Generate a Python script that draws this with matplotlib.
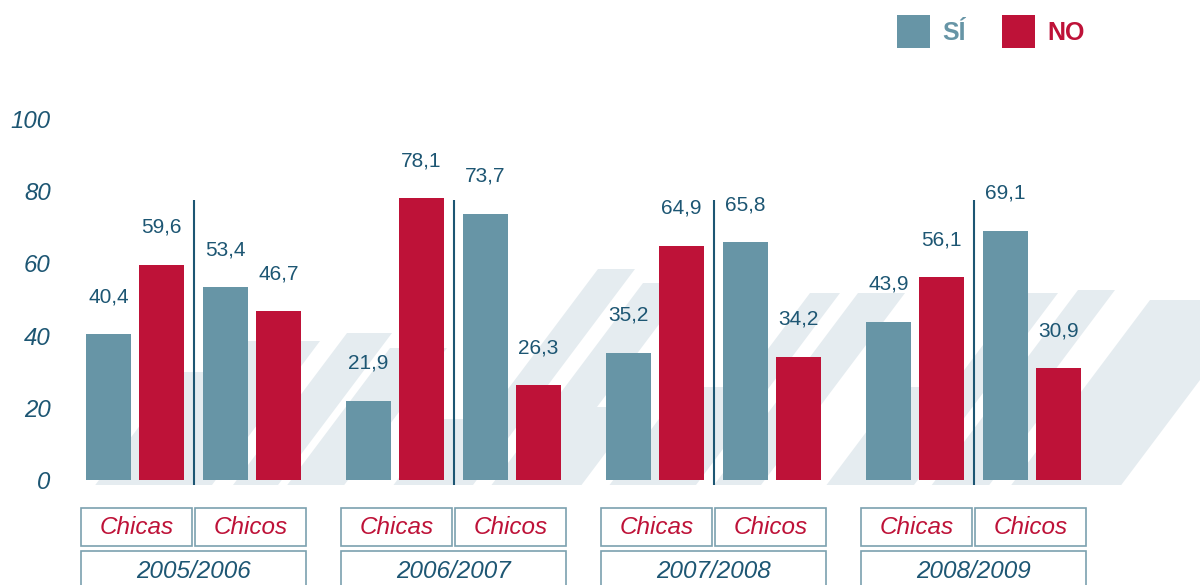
import matplotlib.pyplot as plt
from matplotlib.patches import Rectangle, Polygon

plt.switch_backend('Agg')
plt.rcParams['font.family'] = ['Liberation Sans', 'DejaVu Sans']

# Data
years = ['2005/2006', '2006/2007', '2007/2008', '2008/2009']
sexes = ['Chicas', 'Chicos']
answers = ['SÍ', 'NO']
chicas_si = [40.4, 21.9, 35.2, 43.9]
chicas_no = [59.6, 78.1, 64.9, 56.1]
chicos_si = [53.4, 73.7, 65.8, 69.1]
chicos_no = [46.7, 26.3, 34.2, 30.9]

TEAL = '#6795a6'
RED = '#be1238'
DARK = '#1d5673'
EDGE = '#7ba1af'
STRIPE = '#e5ecf0'

# x axis works in pixels, y axis in percent
px = 3.61            # pixels per percentage point
x0 = 86              # left edge of first bar
group_step = 260
pair_step = 117
bar_step = 53
bar_w = 45

fig = plt.figure(figsize=(12, 5.85), dpi=100)
ax = fig.add_axes([0, 0, 1, 1])
ax.set_xlim(0, 1200)
ax.set_ylim(-105 / px, 480 / px)


def yv(p):
    # pixel row -> value
    return (480 - p) / px


# background decoration stripes (top row, left x, right x)
stripes = [(341, 230, 320), (333, 347, 392), (348, 390, 447), (419, 443, 500),
           (372, 180, 215), (269, 598, 635), (283, 643, 690), (407, 562, 640),
           (387, 683, 743), (293, 810, 840), (293, 858, 905), (387, 900, 960),
           (293, 1022, 1058), (290, 1078, 1115), (300, 1150, 1260),
           (388, 1025, 1062)]
k = 0.75
for top, a, b in stripes:
    h = 485 - top
    ax.add_patch(Polygon([(a, yv(top)), (b, yv(top)), (b - k * h, yv(485)), (a - k * h, yv(485))],
                         closed=True, color=STRIPE, lw=0, zorder=0))

si_vals, no_vals, lefts = [], [], []
for g in range(len(years)):
    for s, (si, no) in enumerate([(chicas_si[g], chicas_no[g]), (chicos_si[g], chicos_no[g])]):
        lefts.append(x0 + g * group_step + s * pair_step)
        si_vals.append(si)
        no_vals.append(no)

b_si = ax.bar([l + bar_w / 2 for l in lefts], si_vals, width=bar_w, color=TEAL, zorder=2)
b_no = ax.bar([l + bar_step + bar_w / 2 for l in lefts], no_vals, width=bar_w, color=RED, zorder=2)

for bars in (b_si, b_no):
    for r in bars:
        v = r.get_height()
        ax.annotate(f'{v:.1f}'.replace('.', ','), (r.get_x() + r.get_width() / 2, v),
                    xytext=(0, 23), textcoords='offset points', ha='center', va='baseline',
                    fontsize=15, color=DARK, zorder=3)

# separators and label boxes
box_w = 111
for g, year in enumerate(years):
    left = x0 + g * group_step
    sep = (left + bar_step + bar_w + left + pair_step) / 2
    ax.vlines(sep, yv(485), 77.5, color=DARK, lw=1.5, zorder=3)
    for s, name in enumerate(sexes):
        bx = sep - 1.5 - box_w if s == 0 else sep + 1.5
        ax.add_patch(Rectangle((bx, yv(546)), box_w, yv(508) - yv(546), fill=False,
                               ec=EDGE, lw=1.2, clip_on=False))
        ax.text(bx + box_w / 2, yv(527), name, ha='center', va='center', fontsize=17.5,
                style='italic', color=RED)
    yx = sep - 1.5 - box_w
    ax.add_patch(Rectangle((yx, yv(590)), 2 * box_w + 3, yv(551) - yv(590), fill=False,
                           ec=EDGE, lw=1.2, clip_on=False))
    ax.text(yx + box_w + 1.5, yv(571), year, ha='center', va='center', fontsize=17.5,
            style='italic', color=DARK)

ax.set_yticks(range(0, 101, 20))
ax.set_yticklabels([str(t) for t in range(0, 101, 20)], fontsize=17.3, style='italic', color=DARK)
ax.tick_params(axis='y', length=0, pad=-36.5)
ax.set_xticks([])
for sp in ax.spines.values():
    sp.set_visible(False)

leg = ax.legend([b_si, b_no], answers, ncol=2, loc='upper left',
                bbox_to_anchor=(897 / 1200, 1 - 15 / 585), bbox_transform=fig.transFigure,
                frameon=False, borderpad=0, borderaxespad=0, handlelength=1.32,
                handleheight=1.65, handletextpad=0.5, columnspacing=1.45,
                prop={'weight': 'bold', 'size': 18})
for t, c in zip(leg.get_texts(), [TEAL, RED]):
    t.set_color(c)

fig.savefig('out.png', dpi=100)
